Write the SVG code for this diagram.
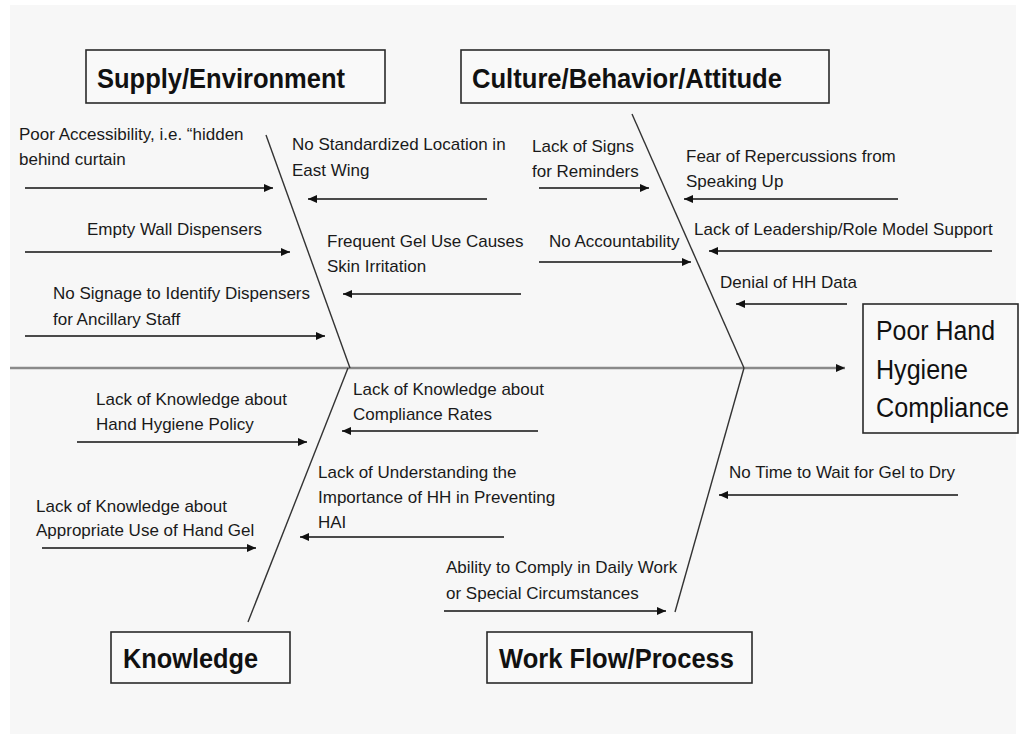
<svg xmlns="http://www.w3.org/2000/svg" width="1019" height="737" viewBox="0 0 1019 737">
  <style>
    .bg { fill: #ffffff; }
    .panel { fill: #f7f7f7; }
    .box { fill: #f9f9f9; stroke: #2a2a2a; stroke-width: 1.6; }
    .title { font-family: "Liberation Sans", Arial, sans-serif; font-weight: bold; font-size: 28px; fill: #111; }
    .effect { font-family: "Liberation Sans", Arial, sans-serif; font-size: 27px; fill: #111; }
    .label { font-family: "Liberation Sans", Arial, sans-serif; font-size: 17px; fill: #1a1a1a; }
    .bone { stroke: #333; stroke-width: 1.4; fill: none; }
    .spine { stroke: #8a8a8a; stroke-width: 2.6; fill: none; }
    .cause { stroke: #4a4a4a; stroke-width: 2; fill: none; }
  </style>
  <defs>
    <marker id="head" markerUnits="userSpaceOnUse" markerWidth="10" markerHeight="10" refX="9" refY="4" orient="auto">
      <path d="M0,0 L9,4 L0,8 z" fill="#111"/>
    </marker>
  </defs>

  <rect class="bg" x="0" y="0" width="1019" height="737"/>
  <rect class="panel" x="10" y="5" width="1006" height="729"/>

  <!-- category headers and effect -->
  <g id="supply-environment">
    <rect class="box" x="86" y="50" width="299" height="53"/>
    <text class="title" x="97" y="88" textLength="248" lengthAdjust="spacingAndGlyphs">Supply/Environment</text>
  </g>
  <g id="culture-behavior-attitude">
    <rect class="box" x="461" y="50" width="368" height="53"/>
    <text class="title" x="472" y="88" textLength="310" lengthAdjust="spacingAndGlyphs">Culture/Behavior/Attitude</text>
  </g>
  <g id="knowledge">
    <rect class="box" x="111" y="632" width="179" height="51"/>
    <text class="title" x="123" y="668" textLength="135" lengthAdjust="spacingAndGlyphs">Knowledge</text>
  </g>
  <g id="work-flow-process">
    <rect class="box" x="487" y="632" width="265" height="51"/>
    <text class="title" x="499" y="668" textLength="235" lengthAdjust="spacingAndGlyphs">Work Flow/Process</text>
  </g>
  <g id="poor-hand-hygiene-compliance">
    <rect class="box" x="863" y="304" width="155" height="129"/>
    <text class="effect" x="876" y="340" textLength="119" lengthAdjust="spacingAndGlyphs">Poor Hand</text>
    <text class="effect" x="876" y="379" textLength="92" lengthAdjust="spacingAndGlyphs">Hygiene</text>
    <text class="effect" x="876" y="417" textLength="133" lengthAdjust="spacingAndGlyphs">Compliance</text>
  </g>

  <!-- causes -->
  <g id="cause-labels">
    <text class="label" x="19" y="140">Poor Accessibility, i.e. “hidden</text>
    <text class="label" x="19" y="165">behind curtain</text>
    <text class="label" x="292" y="150">No Standardized Location in</text>
    <text class="label" x="292" y="176">East Wing</text>
    <text class="label" x="87" y="235">Empty Wall Dispensers</text>
    <text class="label" x="327" y="247">Frequent Gel Use Causes</text>
    <text class="label" x="327" y="272">Skin Irritation</text>
    <text class="label" x="53" y="299">No Signage to Identify Dispensers</text>
    <text class="label" x="53" y="325">for Ancillary Staff</text>

    <text class="label" x="532" y="152">Lack of Signs</text>
    <text class="label" x="532" y="177">for Reminders</text>
    <text class="label" x="686" y="162">Fear of Repercussions from</text>
    <text class="label" x="686" y="187">Speaking Up</text>
    <text class="label" x="694" y="235">Lack of Leadership/Role Model Support</text>
    <text class="label" x="549" y="247">No Accountability</text>
    <text class="label" x="720" y="288">Denial of HH Data</text>

    <text class="label" x="96" y="405">Lack of Knowledge about</text>
    <text class="label" x="96" y="430">Hand Hygiene Policy</text>
    <text class="label" x="353" y="395">Lack of Knowledge about</text>
    <text class="label" x="353" y="420">Compliance Rates</text>
    <text class="label" x="318" y="478">Lack of Understanding the</text>
    <text class="label" x="318" y="503">Importance of HH in Preventing</text>
    <text class="label" x="318" y="528">HAI</text>
    <text class="label" x="36" y="512">Lack of Knowledge about</text>
    <text class="label" x="36" y="536">Appropriate Use of Hand Gel</text>

    <text class="label" x="729" y="478">No Time to Wait for Gel to Dry</text>
    <text class="label" x="446" y="573">Ability to Comply in Daily Work</text>
    <text class="label" x="446" y="599">or Special Circumstances</text>
  </g>

  <!-- skeleton and cause arrows -->
  <g id="connectors">
    <line class="spine" x1="10" y1="368" x2="845" y2="368" marker-end="url(#head)"/>
    <line class="bone" x1="266" y1="135" x2="350" y2="368"/>
    <line class="bone" x1="632" y1="114" x2="744" y2="368"/>
    <line class="bone" x1="348" y1="368" x2="248" y2="622"/>
    <line class="bone" x1="744" y1="368" x2="675" y2="612"/>

    <line class="cause" x1="25" y1="188" x2="273" y2="188" marker-end="url(#head)"/>
    <line class="cause" x1="487" y1="199" x2="308" y2="199" marker-end="url(#head)"/>
    <line class="cause" x1="25" y1="252" x2="290" y2="252" marker-end="url(#head)"/>
    <line class="cause" x1="521" y1="294" x2="343" y2="294" marker-end="url(#head)"/>
    <line class="cause" x1="25" y1="336" x2="325" y2="336" marker-end="url(#head)"/>

    <line class="cause" x1="539" y1="188" x2="649" y2="188" marker-end="url(#head)"/>
    <line class="cause" x1="898" y1="199" x2="684" y2="199" marker-end="url(#head)"/>
    <line class="cause" x1="539" y1="262" x2="691" y2="262" marker-end="url(#head)"/>
    <line class="cause" x1="992" y1="251" x2="709" y2="251" marker-end="url(#head)"/>
    <line class="cause" x1="847" y1="304" x2="736" y2="304" marker-end="url(#head)"/>

    <line class="cause" x1="77" y1="442" x2="307" y2="442" marker-end="url(#head)"/>
    <line class="cause" x1="538" y1="431" x2="342" y2="431" marker-end="url(#head)"/>
    <line class="cause" x1="504" y1="537" x2="300" y2="537" marker-end="url(#head)"/>
    <line class="cause" x1="42" y1="548" x2="256" y2="548" marker-end="url(#head)"/>

    <line class="cause" x1="958" y1="495" x2="719" y2="495" marker-end="url(#head)"/>
    <line class="cause" x1="444" y1="611" x2="666" y2="611" marker-end="url(#head)"/>
  </g>
</svg>
